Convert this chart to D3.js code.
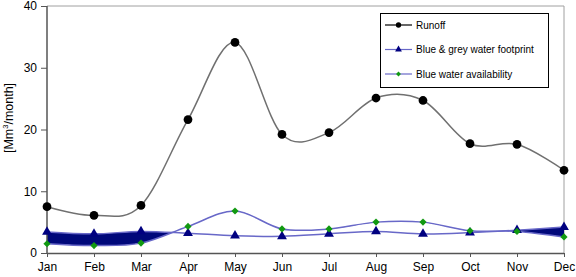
<!DOCTYPE html>
<html><head><meta charset="utf-8">
<script src="https://cdn.jsdelivr.net/npm/d3@7"></script>
<style>body{margin:0;background:#fff}svg{display:block;font-family:"Liberation Sans",Arial,sans-serif}</style>
</head><body><svg id="c" width="576" height="277"></svg>
<script>
const months = ["Jan","Feb","Mar","Apr","May","Jun","Jul","Aug","Sep","Oct","Nov","Dec"];
const runoff = [7.5,6.1,7.7,21.6,34.1,19.2,19.5,25.1,24.7,17.7,17.6,13.4];
const footprint = [3.4,3.1,3.5,3.2,2.8,2.7,3.1,3.5,3.1,3.3,3.7,4.2];
const availability = [1.5,1.2,1.6,4.3,6.8,3.9,3.9,5.0,5.0,3.6,3.5,2.6];
const yTicks = [0,10,20,30,40];
const seriesNames = ["Runoff","Blue & grey water footprint","Blue water availability"];

const svg = d3.select("#c");
const L=47,R=564,T=6,B=253;
const x = d3.scalePoint().domain(months).range([L,R]);
const y = d3.scaleLinear().domain([0,40]).range([B,T]);
const curve = d3.curveCardinal.tension(0);

svg.append("path").attr("d",`M${L},${T}H${R}V${B}`).attr("fill","none").attr("stroke","#a0a0a0").attr("stroke-width",1);

const idx = d3.range(months.length);
const lineOf = arr => d3.line().x(i=>x(months[i])).y(i=>y(arr[i])).curve(curve)(idx);

const clipArea = d3.area().x(i=>x(months[i])).y0(T).y1(i=>y(availability[i])).curve(curve);
svg.append("clipPath").attr("id","above").append("path").attr("d",clipArea(idx));
const between = d3.area().x(i=>x(months[i])).y0(i=>y(availability[i])).y1(i=>y(footprint[i])).curve(curve);
svg.append("path").attr("d",between(idx)).attr("fill","#00087a").attr("clip-path","url(#above)");

const yAxis = svg.append("g").attr("transform",`translate(${L},0)`).call(d3.axisLeft(y).tickValues(yTicks).tickSize(6).tickPadding(4));
const xAxis = svg.append("g").attr("transform",`translate(0,${B})`).call(d3.axisBottom(x).tickSize(4).tickPadding(5));
[yAxis,xAxis].forEach(g=>{
  g.select(".domain").attr("stroke","#555").attr("stroke-width",1.5);
  g.selectAll(".tick line").attr("stroke","#555");
  g.selectAll("text").attr("font-size",12).attr("fill","#000").attr("font-family","Liberation Sans, Arial, sans-serif");
});
xAxis.select(".domain").attr("d",`M${L},0.5H${R}`);
yAxis.select(".domain").attr("d",`M0,${T}V${B}`);

svg.append("text").attr("transform","translate(13,118) rotate(-90)").attr("text-anchor","middle")
  .attr("font-size",12.5).html('[Mm<tspan font-size="7.5" dy="-5">3</tspan><tspan dy="5">/month]</tspan>');

const lineColor = "#6868c8";
svg.append("path").attr("d",lineOf(runoff)).attr("fill","none").attr("stroke","#707070").attr("stroke-width",1.5);
svg.append("path").attr("d",lineOf(footprint)).attr("fill","none").attr("stroke",lineColor).attr("stroke-width",1.5);
svg.append("path").attr("d",lineOf(availability)).attr("fill","none").attr("stroke",lineColor).attr("stroke-width",1.5);

const circle = d3.symbol().type(d3.symbolCircle).size(60);
const tri = d3.symbol().type(d3.symbolTriangle).size(42);
const sq = d3.symbol().type(d3.symbolSquare).size(26);
function markers(arr, sym, fill, rot){
  svg.append("g").selectAll("path").data(idx).join("path")
    .attr("transform",i=>`translate(${x(months[i])},${y(arr[i])}) rotate(${rot||0})`).attr("d",sym).attr("fill",fill);
}
markers(runoff,circle,"#000");
markers(footprint,tri,"#000080");
markers(availability,sq,"#119911",45);

const lg = svg.append("g");
lg.append("rect").attr("x",380.5).attr("y",13.5).attr("width",168).attr("height",74).attr("fill","#fff").attr("stroke","#000");
const lgItems = [
  {name:seriesNames[0], stroke:"#000", sym:d3.symbol().type(d3.symbolCircle).size(22), fill:"#000", rot:0},
  {name:seriesNames[1], stroke:lineColor, sym:d3.symbol().type(d3.symbolTriangle).size(20), fill:"#000080", rot:0},
  {name:seriesNames[2], stroke:lineColor, sym:d3.symbol().type(d3.symbolSquare).size(12), fill:"#119911", rot:45}
];
lgItems.forEach((d,k)=>{
  const yy = 25 + k*24.5;
  lg.append("line").attr("x1",385).attr("x2",412).attr("y1",yy).attr("y2",yy).attr("stroke",d.stroke).attr("stroke-width",1.2);
  lg.append("path").attr("transform",`translate(398.5,${yy}) rotate(${d.rot})`).attr("d",d.sym).attr("fill",d.fill);
  lg.append("text").attr("x",416).attr("y",yy+3.5).attr("font-size",10).text(d.name);
});
</script></body></html>
